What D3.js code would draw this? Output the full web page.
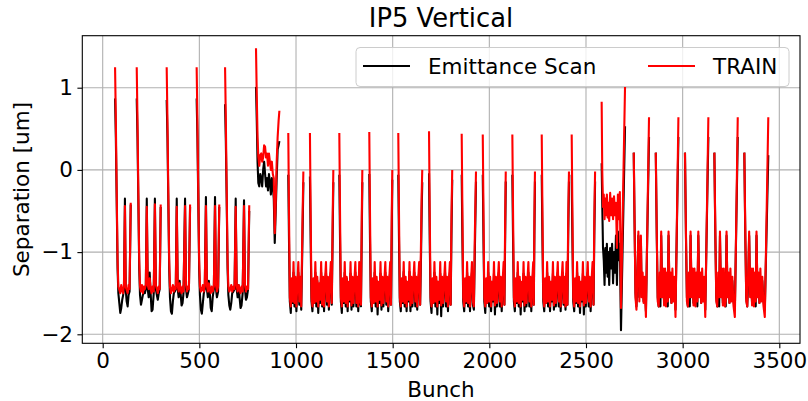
<!DOCTYPE html>
<html>
<head>
<meta charset="utf-8">
<script src="https://cdn.jsdelivr.net/npm/d3@7"></script>
<style>
  body { margin: 0; background: #fff; }
  text { font-family: "DejaVu Sans", sans-serif; fill: #000; }
</style>
</head>
<body>
<svg id="chart" width="808" height="401"></svg>
<script>
// Each point: [bunch, emittance scan, TRAIN]; each inner array is one unbroken piece of line
const firstTrains = [
  [[64,0.87,1.25],[68,0.40,0.60],[72,-0.30,-0.20],[77,-1.20,-1.10],[81,-1.50,-1.42],[86,-1.62,-1.46],[91,-1.74,-1.50],[96,-1.68,-1.40],[101,-1.58,-1.47],[106,-1.52,-1.50],[110,-1.45,-1.40],[115,-0.35,-0.44],[119,-1.45,-1.42],[124,-1.60,-1.46],[129,-1.66,-1.50],[134,-1.52,-1.40],[139,-1.48,-1.45],[145,-0.42,-0.40]],
  [[176,0.87,1.25],[180,0.40,0.60],[184,-0.30,-0.20],[189,-1.20,-1.10],[193,-1.52,-1.42],[198,-1.64,-1.48],[203,-1.58,-1.40],[208,-1.52,-1.50],[213,-1.48,-1.42],[218,-1.50,-1.45],[223,-1.45,-1.40],[228,-0.35,-0.45],[233,-1.45,-1.40],[238,-1.55,-1.45],[243,-1.25,-1.32],[248,-1.50,-1.45],[253,-1.72,-1.50],[258,-1.70,-1.42],[264,-1.50,-1.48],[270,-0.35,-0.42],[275,-1.45,-1.40],[280,-1.52,-1.45],[285,-1.58,-1.50],[290,-1.50,-1.42],[295,-1.45,-1.45],[300,-0.45,-0.42]],
  [[331,0.85,1.25],[335,0.40,0.60],[339,-0.30,-0.20],[344,-1.20,-1.10],[348,-1.55,-1.42],[353,-1.72,-1.50],[358,-1.75,-1.45],[363,-1.60,-1.40],[368,-1.50,-1.48],[373,-1.48,-1.42],[378,-1.45,-1.45],[383,-0.35,-0.45],[388,-1.45,-1.40],[393,-1.55,-1.48],[398,-1.35,-1.38],[403,-1.50,-1.45],[408,-1.65,-1.50],[413,-1.62,-1.42],[418,-1.50,-1.48],[426,-0.35,-0.44],[431,-1.45,-1.40],[436,-1.55,-1.48],[441,-1.50,-1.42],[446,-1.45,-1.45],[452,-0.45,-0.42]],
  [[486,0.87,1.25],[490,0.40,0.60],[494,-0.30,-0.20],[499,-1.20,-1.10],[503,-1.52,-1.42],[508,-1.70,-1.48],[513,-1.75,-1.45],[518,-1.62,-1.40],[523,-1.50,-1.48],[528,-1.45,-1.42],[534,-0.33,-0.44],[539,-1.45,-1.40],[544,-1.55,-1.48],[549,-1.35,-1.38],[554,-1.50,-1.45],[559,-1.68,-1.50],[564,-1.72,-1.42],[569,-1.55,-1.48],[575,-1.45,-1.42],[581,-0.33,-0.44],[586,-1.45,-1.40],[591,-1.55,-1.48],[597,-1.48,-1.42],[603,-0.45,-0.42]],
  [[633,0.80,1.25],[637,0.35,0.60],[641,-0.30,-0.20],[646,-1.20,-1.10],[650,-1.52,-1.42],[655,-1.65,-1.48],[660,-1.70,-1.45],[665,-1.62,-1.40],[670,-1.50,-1.48],[676,-1.48,-1.42],[682,-1.45,-1.45],[688,-0.35,-0.45],[693,-1.45,-1.40],[698,-1.55,-1.48],[703,-1.40,-1.40],[708,-1.55,-1.45],[713,-1.68,-1.50],[718,-1.65,-1.42],[724,-1.50,-1.48],[731,-0.37,-0.44],[736,-1.45,-1.40],[741,-1.58,-1.48],[746,-1.55,-1.42],[752,-1.45,-1.45],[758,-0.50,-0.43]]
];

const transitionTrain = [
  [[793,1.01,1.48],[797,0.60,0.90],[801,0.10,0.40],[805,-0.16,0.16],[810,-0.20,0.05],[815,-0.05,0.18],[820,-0.10,0.20],[825,-0.20,0.10],[830,0.00,0.15],[835,0.10,0.30],[840,-0.05,0.28],[845,-0.20,0.15],[850,-0.10,0.20],[855,-0.25,0.05],[860,-0.05,0.20],[865,-0.15,0.10],[870,-0.30,0.00],[875,-0.10,0.10],[880,-0.20,-0.05],[885,-0.35,-0.10],[890,-0.89,-0.77],[895,-0.50,-0.40],[900,-0.10,0.10],[905,0.25,0.40],[910,0.30,0.60],[914,0.35,0.72]]
];

const middleTrains = [
  [[960,-0.06,0.45],[964,-0.90,-0.60],[968,-1.60,-1.55],[973,-1.74,-1.66],[978,-1.35,-1.32],[983,-1.62,-1.60],[987,-1.25,-1.12],[992,-1.66,-1.62],[997,-1.35,-1.30],[1002,-1.72,-1.66],[1007,-1.40,-1.38],[1012,-1.25,-1.12],[1017,-1.64,-1.60],[1022,-1.32,-1.30],[1027,-1.70,-1.66],[1033,-0.90,-0.70],[1038,-0.15,-0.02]],
  [[1072,-0.08,0.45],[1076,-0.90,-0.60],[1080,-1.60,-1.55],[1085,-1.72,-1.66],[1090,-1.35,-1.32],[1095,-1.62,-1.62],[1100,-1.25,-1.12],[1105,-1.66,-1.60],[1110,-1.35,-1.30],[1115,-1.74,-1.66],[1120,-1.40,-1.38],[1125,-1.62,-1.58],[1130,-1.25,-1.12],[1135,-1.66,-1.64],[1140,-1.32,-1.30],[1145,-1.72,-1.66],[1150,-1.38,-1.35],[1155,-1.25,-1.12],[1160,-1.64,-1.60],[1165,-1.32,-1.30],[1170,-1.70,-1.66],[1175,-1.36,-1.35],[1180,-1.25,-1.12],[1185,-1.64,-1.62],[1189,-0.90,-0.70],[1193,-0.15,0.00]],
  [[1224,-0.06,0.45],[1228,-0.90,-0.60],[1232,-1.60,-1.55],[1237,-1.74,-1.66],[1242,-1.34,-1.32],[1247,-1.62,-1.60],[1252,-1.25,-1.12],[1257,-1.66,-1.62],[1262,-1.32,-1.30],[1267,-1.72,-1.66],[1272,-1.38,-1.36],[1277,-1.60,-1.58],[1282,-1.26,-1.12],[1287,-1.70,-1.65],[1292,-1.32,-1.30],[1297,-1.66,-1.62],[1302,-1.38,-1.35],[1307,-1.25,-1.12],[1312,-1.66,-1.62],[1317,-1.34,-1.30],[1322,-1.72,-1.66],[1327,-1.26,-1.12],[1332,-1.62,-1.60],[1336,-1.66,-1.64],[1340,-0.80,-0.60],[1343,-0.15,0.00]],
  [[1379,-0.05,0.46],[1383,-0.90,-0.60],[1387,-1.60,-1.55],[1392,-1.72,-1.66],[1397,-1.36,-1.32],[1402,-1.62,-1.62],[1407,-1.25,-1.12],[1412,-1.66,-1.60],[1417,-1.35,-1.30],[1422,-1.76,-1.66],[1427,-1.38,-1.36],[1432,-1.62,-1.58],[1437,-1.26,-1.12],[1442,-1.70,-1.65],[1447,-1.33,-1.30],[1452,-1.66,-1.62],[1457,-1.38,-1.35],[1462,-1.25,-1.12],[1467,-1.64,-1.60],[1472,-1.32,-1.30],[1477,-1.72,-1.66],[1482,-1.36,-1.34],[1487,-1.25,-1.12],[1491,-1.64,-1.64],[1495,-0.80,-0.60],[1498,-0.12,0.00]],
  [[1529,-0.06,0.45],[1533,-0.90,-0.60],[1537,-1.60,-1.55],[1542,-1.72,-1.66],[1547,-1.34,-1.32],[1552,-1.62,-1.60],[1557,-1.24,-1.12],[1562,-1.66,-1.62],[1567,-1.35,-1.30],[1572,-1.72,-1.66],[1577,-1.38,-1.36],[1582,-1.60,-1.58],[1587,-1.24,-1.12],[1592,-1.72,-1.65],[1597,-1.32,-1.30],[1602,-1.66,-1.62],[1607,-1.38,-1.35],[1612,-1.25,-1.12],[1617,-1.66,-1.60],[1622,-1.34,-1.30],[1627,-1.70,-1.66],[1632,-1.36,-1.34],[1637,-1.25,-1.12],[1642,-1.64,-1.64],[1647,-1.00,-0.80],[1650,-0.50,-0.30],[1653,-0.15,0.00]],
  [[1688,-0.04,0.47],[1692,-0.90,-0.60],[1696,-1.60,-1.55],[1701,-1.74,-1.66],[1706,-1.34,-1.32],[1711,-1.62,-1.62],[1716,-1.25,-1.12],[1721,-1.66,-1.60],[1726,-1.35,-1.30],[1731,-1.76,-1.66],[1736,-1.38,-1.36],[1741,-1.62,-1.58],[1746,-1.26,-1.12],[1751,-1.78,-1.65],[1756,-1.32,-1.30],[1761,-1.66,-1.62],[1766,-1.38,-1.35],[1771,-1.25,-1.12],[1776,-1.66,-1.60],[1781,-1.32,-1.30],[1786,-1.72,-1.66],[1791,-1.36,-1.34],[1796,-1.25,-1.12],[1800,-1.64,-1.64],[1804,-0.80,-0.60],[1808,-0.12,0.00]],
  [[1857,-0.06,0.44],[1861,-0.90,-0.60],[1865,-1.60,-1.55],[1870,-1.72,-1.66],[1875,-1.35,-1.32],[1880,-1.62,-1.60],[1885,-1.25,-1.12],[1890,-1.66,-1.62],[1895,-1.34,-1.30],[1900,-1.72,-1.66],[1905,-1.38,-1.36],[1910,-1.25,-1.12],[1915,-1.64,-1.60],[1920,-1.70,-1.66],[1925,-1.00,-0.80],[1931,-0.14,-0.02]],
  [[1966,-0.06,0.43],[1970,-0.90,-0.60],[1974,-1.60,-1.55],[1979,-1.74,-1.66],[1984,-1.35,-1.32],[1989,-1.62,-1.62],[1994,-1.25,-1.12],[1999,-1.66,-1.60],[2004,-1.34,-1.30],[2009,-1.72,-1.66],[2014,-1.38,-1.36],[2019,-1.60,-1.58],[2024,-1.26,-1.12],[2029,-1.76,-1.65],[2034,-1.32,-1.30],[2039,-1.66,-1.62],[2044,-1.38,-1.35],[2049,-1.25,-1.12],[2054,-1.66,-1.60],[2059,-1.32,-1.30],[2064,-1.72,-1.66],[2069,-1.36,-1.34],[2074,-1.25,-1.12],[2078,-1.64,-1.64],[2082,-0.80,-0.60],[2085,-0.14,-0.02]],
  [[2119,-0.06,0.43],[2123,-0.90,-0.60],[2127,-1.60,-1.55],[2132,-1.72,-1.66],[2137,-1.35,-1.32],[2142,-1.62,-1.60],[2147,-1.25,-1.12],[2152,-1.66,-1.62],[2157,-1.34,-1.30],[2162,-1.76,-1.66],[2167,-1.38,-1.36],[2172,-1.60,-1.58],[2177,-1.26,-1.12],[2182,-1.72,-1.65],[2187,-1.32,-1.30],[2192,-1.66,-1.62],[2197,-1.38,-1.35],[2202,-1.25,-1.12],[2207,-1.66,-1.60],[2212,-1.32,-1.30],[2217,-1.72,-1.66],[2222,-1.36,-1.34],[2227,-1.25,-1.12],[2230,-1.64,-1.64],[2233,-0.80,-0.60],[2236,-0.14,-0.02]],
  [[2271,-0.06,0.43],[2275,-0.90,-0.60],[2279,-1.60,-1.55],[2284,-1.72,-1.66],[2289,-1.35,-1.32],[2294,-1.62,-1.62],[2299,-1.25,-1.12],[2304,-1.66,-1.60],[2309,-1.34,-1.30],[2314,-1.72,-1.66],[2319,-1.38,-1.36],[2324,-1.60,-1.58],[2329,-1.26,-1.12],[2334,-1.70,-1.65],[2339,-1.32,-1.30],[2344,-1.66,-1.62],[2349,-1.38,-1.35],[2354,-1.25,-1.12],[2359,-1.66,-1.60],[2364,-1.32,-1.30],[2369,-1.72,-1.66],[2374,-1.36,-1.34],[2379,-1.25,-1.12],[2384,-1.64,-1.62],[2389,-1.34,-1.30],[2394,-1.70,-1.66],[2399,-1.26,-1.12],[2404,-1.64,-1.64],[2408,-0.80,-0.60],[2412,-0.14,-0.02]],
  [[2426,-0.06,0.43],[2430,-0.90,-0.60],[2434,-1.60,-1.55],[2439,-1.72,-1.66],[2444,-1.35,-1.32],[2449,-1.62,-1.60],[2454,-1.25,-1.12],[2459,-1.66,-1.62],[2464,-1.34,-1.30],[2469,-1.74,-1.66],[2474,-1.38,-1.36],[2479,-1.60,-1.58],[2484,-1.26,-1.12],[2489,-1.76,-1.65],[2494,-1.32,-1.30],[2499,-1.66,-1.62],[2504,-1.38,-1.35],[2509,-1.25,-1.12],[2514,-1.66,-1.60],[2519,-1.32,-1.30],[2524,-1.72,-1.66],[2529,-1.36,-1.34],[2534,-1.25,-1.12],[2539,-1.64,-1.64],[2543,-0.80,-0.60],[2547,-0.14,-0.02]]
];

const disturbedTrain = [
  [[2581,0.08,0.83],[2584,-0.40,0.00],[2588,-0.95,-0.45],[2592,-1.10,-0.30],[2596,-1.40,-0.60],[2600,-0.95,-0.35],[2604,-1.25,-0.55],[2608,-0.90,-0.30],[2612,-1.30,-0.58],[2616,-1.00,-0.40],[2620,-1.40,-0.62],[2625,-0.95,-0.28],[2630,-1.20,-0.55],[2635,-0.90,-0.35],[2640,-1.38,-0.60],[2645,-1.00,-0.32],[2650,-1.25,-0.55],[2655,-0.80,-0.40],[2660,-1.40,-0.95],[2665,-0.75,-0.30],[2670,-1.10,-0.60],[2675,-0.90,-0.27],[2681,-1.95,-1.68],[2702,0.53,1.02]]
];

const lastTrains = [
  [[2747,0.21,0.21],[2751,-0.60,-0.60],[2756,-1.50,-1.55],[2761,-1.66,-1.70],[2766,-1.30,-1.25],[2771,-0.80,-0.75],[2776,-1.55,-1.60],[2780,-1.30,-1.20],[2784,-0.85,-0.80],[2788,-1.50,-1.55],[2793,-1.30,-1.25],[2798,-1.60,-1.62],[2803,-1.35,-1.30],[2810,-1.72,-1.79],[2826,0.40,0.64]],
  [[2861,0.21,0.21],[2866,-0.80,-0.75],[2871,-1.55,-1.60],[2876,-1.66,-1.66],[2881,-1.35,-1.25],[2885,-1.66,-1.55],[2889,-0.80,-0.75],[2894,-1.50,-1.55],[2899,-1.30,-1.20],[2904,-1.60,-1.65],[2909,-1.30,-1.20],[2914,-1.62,-1.66],[2919,-1.35,-1.25],[2923,-1.66,-1.60],[2927,-0.80,-0.75],[2932,-1.50,-1.55],[2937,-1.28,-1.25],[2942,-1.62,-1.62],[2947,-1.30,-1.20],[2952,-1.55,-1.60],[2957,-1.35,-1.30],[2963,-1.70,-1.79],[2978,0.40,0.64]],
  [[3012,0.21,0.21],[3017,-0.80,-0.75],[3022,-1.55,-1.60],[3027,-1.66,-1.66],[3032,-1.35,-1.25],[3037,-1.66,-1.55],[3041,-0.80,-0.75],[3046,-1.50,-1.55],[3051,-1.30,-1.20],[3056,-1.62,-1.65],[3061,-1.30,-1.20],[3066,-1.60,-1.66],[3071,-1.35,-1.25],[3076,-1.66,-1.60],[3081,-0.80,-0.75],[3086,-1.50,-1.55],[3091,-1.28,-1.25],[3096,-1.62,-1.62],[3101,-1.30,-1.20],[3106,-1.55,-1.60],[3111,-1.35,-1.30],[3117,-1.70,-1.79],[3133,0.40,0.64]],
  [[3164,0.21,0.21],[3169,-0.80,-0.75],[3174,-1.55,-1.60],[3179,-1.66,-1.66],[3184,-1.35,-1.25],[3189,-1.66,-1.55],[3193,-0.80,-0.75],[3198,-1.50,-1.55],[3203,-1.30,-1.20],[3208,-1.62,-1.65],[3213,-1.30,-1.20],[3218,-1.60,-1.66],[3223,-1.66,-1.60],[3227,-0.80,-0.75],[3232,-1.50,-1.55],[3237,-1.28,-1.25],[3242,-1.62,-1.62],[3247,-1.30,-1.20],[3252,-1.55,-1.60],[3257,-1.35,-1.30],[3263,-1.60,-1.65],[3270,-1.70,-1.79],[3285,0.40,0.64]],
  [[3319,0.21,0.21],[3324,-0.80,-0.75],[3329,-1.55,-1.60],[3334,-1.66,-1.66],[3339,-1.35,-1.25],[3344,-0.80,-0.75],[3349,-1.50,-1.55],[3354,-1.30,-1.20],[3359,-1.62,-1.65],[3364,-1.30,-1.20],[3369,-1.60,-1.66],[3374,-1.35,-1.25],[3378,-1.66,-1.60],[3382,-0.80,-0.75],[3387,-1.50,-1.55],[3392,-1.28,-1.25],[3397,-1.62,-1.62],[3402,-1.30,-1.20],[3407,-1.55,-1.60],[3412,-1.35,-1.30],[3418,-1.60,-1.65],[3425,-1.70,-1.79],[3443,0.18,0.64]]
];

const xTicks = [0, 500, 1000, 1500, 2000, 2500, 3000, 3500];
const yTicks = [-2, -1, 0, 1];
const seriesNames = ["Emittance Scan", "TRAIN"];
const seriesColors = ["#000000", "#ff0000"];

const svg = d3.select("#chart");
const margin = { left: 82.3, right: 800, top: 35.7, bottom: 343.3 };

const x = d3.scaleLinear().domain([-105.5, 3607]).range([margin.left, margin.right]);
const y = d3.scaleLinear().domain([-2.1095, 1.6326]).range([margin.bottom, margin.top]);

// grid
const grid = svg.append("g").attr("stroke", "#b0b0b0").attr("stroke-width", 1.1);
grid.selectAll(".gx").data(xTicks).enter().append("line")
  .attr("x1", d => x(d)).attr("x2", d => x(d))
  .attr("y1", margin.top).attr("y2", margin.bottom);
grid.selectAll(".gy").data(yTicks).enter().append("line")
  .attr("y1", d => y(d)).attr("y2", d => y(d))
  .attr("x1", margin.left).attr("x2", margin.right);

// data lines, black first so red sits on top
const segments = [].concat(firstTrains, transitionTrain, middleTrains, disturbedTrain, lastTrains);
const plot = svg.append("g");
[1, 2].forEach((col, i) => {
  const line = d3.line().x(d => x(d[0])).y(d => y(d[col]));
  plot.selectAll(".s" + col).data(segments).enter().append("path")
    .attr("d", line)
    .attr("fill", "none")
    .attr("stroke", seriesColors[i])
    .attr("stroke-width", 2.1)
    .attr("stroke-linejoin", "round");
});

// axes
const xAxis = svg.append("g").attr("transform", `translate(0,${margin.bottom})`)
  .call(d3.axisBottom(x).tickValues(xTicks).tickSize(4.9).tickPadding(4.5).tickFormat(d3.format("d")));
const yAxis = svg.append("g").attr("transform", `translate(${margin.left},0)`)
  .call(d3.axisLeft(y).tickValues(yTicks).tickSize(4.9).tickPadding(4.5)
    .tickFormat(d => d < 0 ? "\u2212" + Math.abs(d) : d));
[xAxis, yAxis].forEach(a => {
  a.select(".domain").remove();
  a.selectAll(".tick line").attr("stroke", "#000").attr("stroke-width", 1.1);
  a.selectAll(".tick text").attr("font-size", 21.5).attr("font-family", "DejaVu Sans");
});

// frame
svg.append("rect")
  .attr("x", margin.left).attr("y", margin.top)
  .attr("width", margin.right - margin.left).attr("height", margin.bottom - margin.top)
  .attr("fill", "none").attr("stroke", "#000").attr("stroke-width", 1.1);

// titles
svg.append("text").attr("x", 441).attr("y", 27).attr("text-anchor", "middle")
  .attr("font-size", 25.8).text("IP5 Vertical");
svg.append("text").attr("x", 441).attr("y", 397).attr("text-anchor", "middle")
  .attr("font-size", 21.5).text("Bunch");
svg.append("text").attr("transform", "translate(29,189.5) rotate(-90)").attr("text-anchor", "middle")
  .attr("font-size", 21.5).text("Separation [um]");

// legend
const legend = svg.append("g");
legend.append("rect").attr("x", 356).attr("y", 47.5).attr("width", 433).attr("height", 39)
  .attr("rx", 4).attr("fill", "#fff").attr("fill-opacity", 0.8).attr("stroke", "#cccccc");
const legendX = [363, 648];
seriesNames.forEach((name, i) => {
  legend.append("line").attr("x1", legendX[i]).attr("x2", legendX[i] + 47)
    .attr("y1", 66).attr("y2", 66).attr("stroke", seriesColors[i]).attr("stroke-width", 2.1);
  legend.append("text").attr("x", legendX[i] + 65).attr("y", 73.7)
    .attr("font-size", 21.5).text(name);
});
</script>
</body>
</html>
